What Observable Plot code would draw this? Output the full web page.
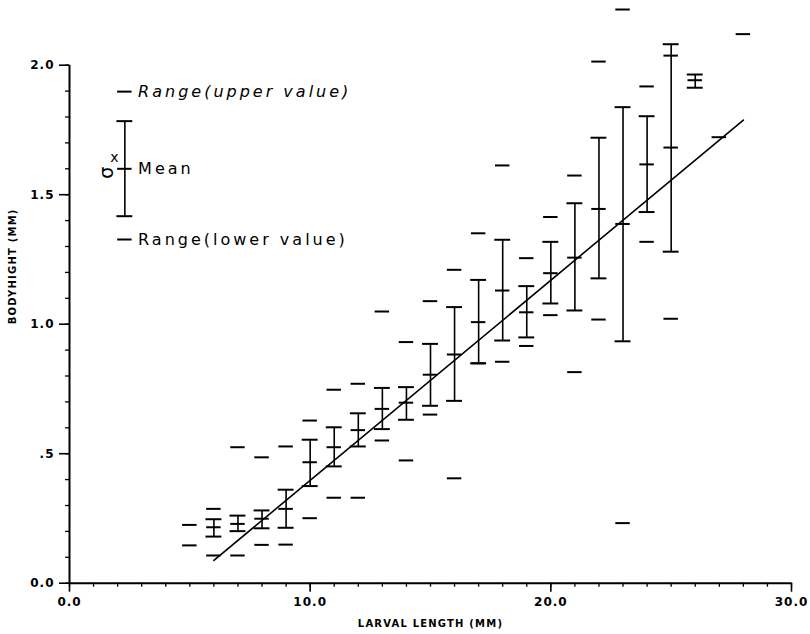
<!DOCTYPE html>
<html>
<head>
<meta charset="utf-8">
<script src="https://cdn.jsdelivr.net/npm/d3@7"></script>
<script src="https://cdn.jsdelivr.net/npm/@observablehq/plot@0.6"></script>
<style>
  html, body { margin: 0; padding: 0; background: #fff; }
  #chart svg { display: block; }
  g[aria-label="y-axis tick label"], g[aria-label="x-axis tick label"] { font-weight: bold; font-size: 12px; letter-spacing: 1px; }
  .legtext text { letter-spacing: 3px; }
  .axtitle text { letter-spacing: 1.2px; font-weight: bold; }
</style>
</head>
<body>
<div id="chart"></div>
<script>
// Larval length (mm) classes
const lengths   = [5, 6, 7, 8, 9, 10, 11, 12, 13, 14, 15, 16, 17, 18, 19, 20, 21, 22, 23, 24, 25, 26];
// Range (upper value) of body height (mm)
const rangeHi   = [0.225, 0.287, 0.525, 0.486, 0.528, 0.628, 0.747, 0.770, 1.049, 0.931, 1.089, 1.210, 1.351, 1.613, 1.255, 1.414, 1.574, 2.014, 2.215, 1.918, 2.037, null];
// Range (lower value)
const rangeLo   = [0.146, 0.107, 0.107, 0.148, 0.149, 0.251, 0.330, 0.330, 0.551, 0.474, 0.651, 0.405, 0.849, 0.855, 0.916, 1.035, 0.815, 1.018, 0.232, 1.318, 1.021, null];
// Mean body height
const means     = [null, 0.216, 0.229, 0.249, 0.287, 0.467, 0.525, 0.591, 0.673, 0.697, 0.805, 0.883, 1.008, 1.130, 1.046, 1.197, 1.257, 1.445, 1.387, 1.617, 1.682, 1.942];
// Mean + sigma and mean - sigma
const sdHi      = [null, 0.247, 0.261, 0.281, 0.361, 0.554, 0.602, 0.656, 0.754, 0.757, 0.924, 1.066, 1.171, 1.326, 1.147, 1.318, 1.467, 1.720, 1.838, 1.803, 2.081, 1.964];
const sdLo      = [null, 0.180, 0.201, 0.212, 0.214, 0.375, 0.451, 0.528, 0.595, 0.631, 0.685, 0.704, 0.849, 0.937, 0.949, 1.080, 1.053, 1.177, 0.934, 1.433, 1.280, 1.913];
// Single observations
const singleX   = [27, 28];
const singleY   = [1.722, 2.120];
// Regression line end points
const regX      = [6, 28];
const regY      = [0.088, 1.788];
// Legend example
const legendX      = [2.3];
const legRangeHi   = [1.898];
const legSdHi      = [1.784];
const legMean      = [1.600];
const legSdLo      = [1.417];
const legRangeLo   = [1.327];
const legendTextX  = 2.85;
const legendLabels = ["Range(upper value)", "Mean", "Range(lower value)"];
// Axis ticks
const xTicks = [0, 10, 20, 30];
const xTickLabels = ["0.0", "10.0", "20.0", "30.0"];
const xMinor = d3.range(0, 31, 1);
const yTicks = [0, 0.5, 1.0, 1.5, 2.0];
const yTickLabels = ["0.0", ".5", "1.0", "1.5", "2.0"];
const yMinor = d3.range(0, 21, 1).map(d => d / 10);
const xTitle = "LARVAL LENGTH (MM)";
const yTitle = "BODYHIGHT (MM)";

const rows = lengths.map((x, i) => ({x, rangeHi: rangeHi[i], rangeLo: rangeLo[i], mean: means[i], sdHi: sdHi[i], sdLo: sdLo[i]}));
const legRows = legendX.map((x, i) => ({x, rangeHi: legRangeHi[i], rangeLo: legRangeLo[i], mean: legMean[i], sdHi: legSdHi[i], sdLo: legSdLo[i]}));
const allRows = rows.concat(legRows);
const bars = allRows.filter(d => d.mean != null);
const ranges = allRows.flatMap(d => [d.rangeHi, d.rangeLo].filter(v => v != null).map(v => ({x: d.x, y: v})));
const singles = singleX.map((x, i) => ({x, y: singleY[i]}));

const capW = 0.33, tickW = 0.3, dashW = 0.3;

const chart = Plot.plot({
  width: 810,
  height: 634,
  marginLeft: 69,
  marginRight: 19,
  marginTop: 64.7,
  marginBottom: 51.3,
  x: {domain: [0, 30]},
  y: {domain: [0, 2]},
  style: {fontFamily: "DejaVu Sans", color: "black", background: "white"},
  marks: [
    Plot.axisX({ticks: xMinor, tickSize: 4, tickFormat: () => "", label: null, strokeWidth: 1.3}),
    Plot.axisX({ticks: xTicks, tickSize: 9, tickPadding: 5, tickFormat: (d, i) => xTickLabels[i], label: null, strokeWidth: 1.6}),
    Plot.axisY({ticks: yMinor, tickSize: 4, tickFormat: () => "", label: null, strokeWidth: 1.3}),
    Plot.axisY({ticks: yTicks, tickSize: 10, tickPadding: 5, tickFormat: (d, i) => yTickLabels[i], label: null, strokeWidth: 1.6}),
    Plot.ruleX([0], {strokeWidth: 2}),
    Plot.ruleY([0], {strokeWidth: 2}),
    // error bars (mean ± sigma)
    Plot.ruleX(bars, {x: "x", y1: "sdLo", y2: "sdHi", strokeWidth: 1.6}),
    Plot.ruleY(bars, {y: "sdHi", x1: d => d.x - capW, x2: d => d.x + capW, strokeWidth: 2}),
    Plot.ruleY(bars, {y: "sdLo", x1: d => d.x - capW, x2: d => d.x + capW, strokeWidth: 2}),
    Plot.ruleY(bars, {y: "mean", x1: d => d.x - tickW, x2: d => d.x + tickW, strokeWidth: 2}),
    // range dashes
    Plot.ruleY(ranges, {y: "y", x1: d => d.x - dashW, x2: d => d.x + dashW, strokeWidth: 2}),
    Plot.ruleY(singles, {y: "y", x1: d => d.x - dashW, x2: d => d.x + dashW, strokeWidth: 2}),
    // regression line
    Plot.line(regX, {x: d => d, y: (d, i) => regY[i], strokeWidth: 1.6}),
    // legend texts
    Plot.text([legendLabels[0]], {x: legendTextX, y: legRangeHi[0], textAnchor: "start", lineAnchor: "middle", fontSize: 16, fontStyle: "italic", className: "legtext"}),
    Plot.text([legendLabels[1]], {x: legendTextX, y: legMean[0], textAnchor: "start", lineAnchor: "middle", fontSize: 16, className: "legtext"}),
    Plot.text([legendLabels[2]], {x: legendTextX, y: legRangeLo[0], textAnchor: "start", lineAnchor: "middle", fontSize: 16, className: "legtext"}),
    Plot.text(["σ"], {x: 1.55, y: 1.585, rotate: -90, fontSize: 19, lineAnchor: "middle"}),
    Plot.text(["x"], {x: 1.87, y: 1.645, fontSize: 14, lineAnchor: "middle"}),
    // axis titles
    Plot.text([xTitle], {frameAnchor: "bottom", dy: 44, fontSize: 10, className: "axtitle"}),
    Plot.text([yTitle], {frameAnchor: "left", dx: -57, rotate: -90, fontSize: 10, className: "axtitle"})
  ]
});
document.getElementById("chart").appendChild(chart);
</script>
</body>
</html>
